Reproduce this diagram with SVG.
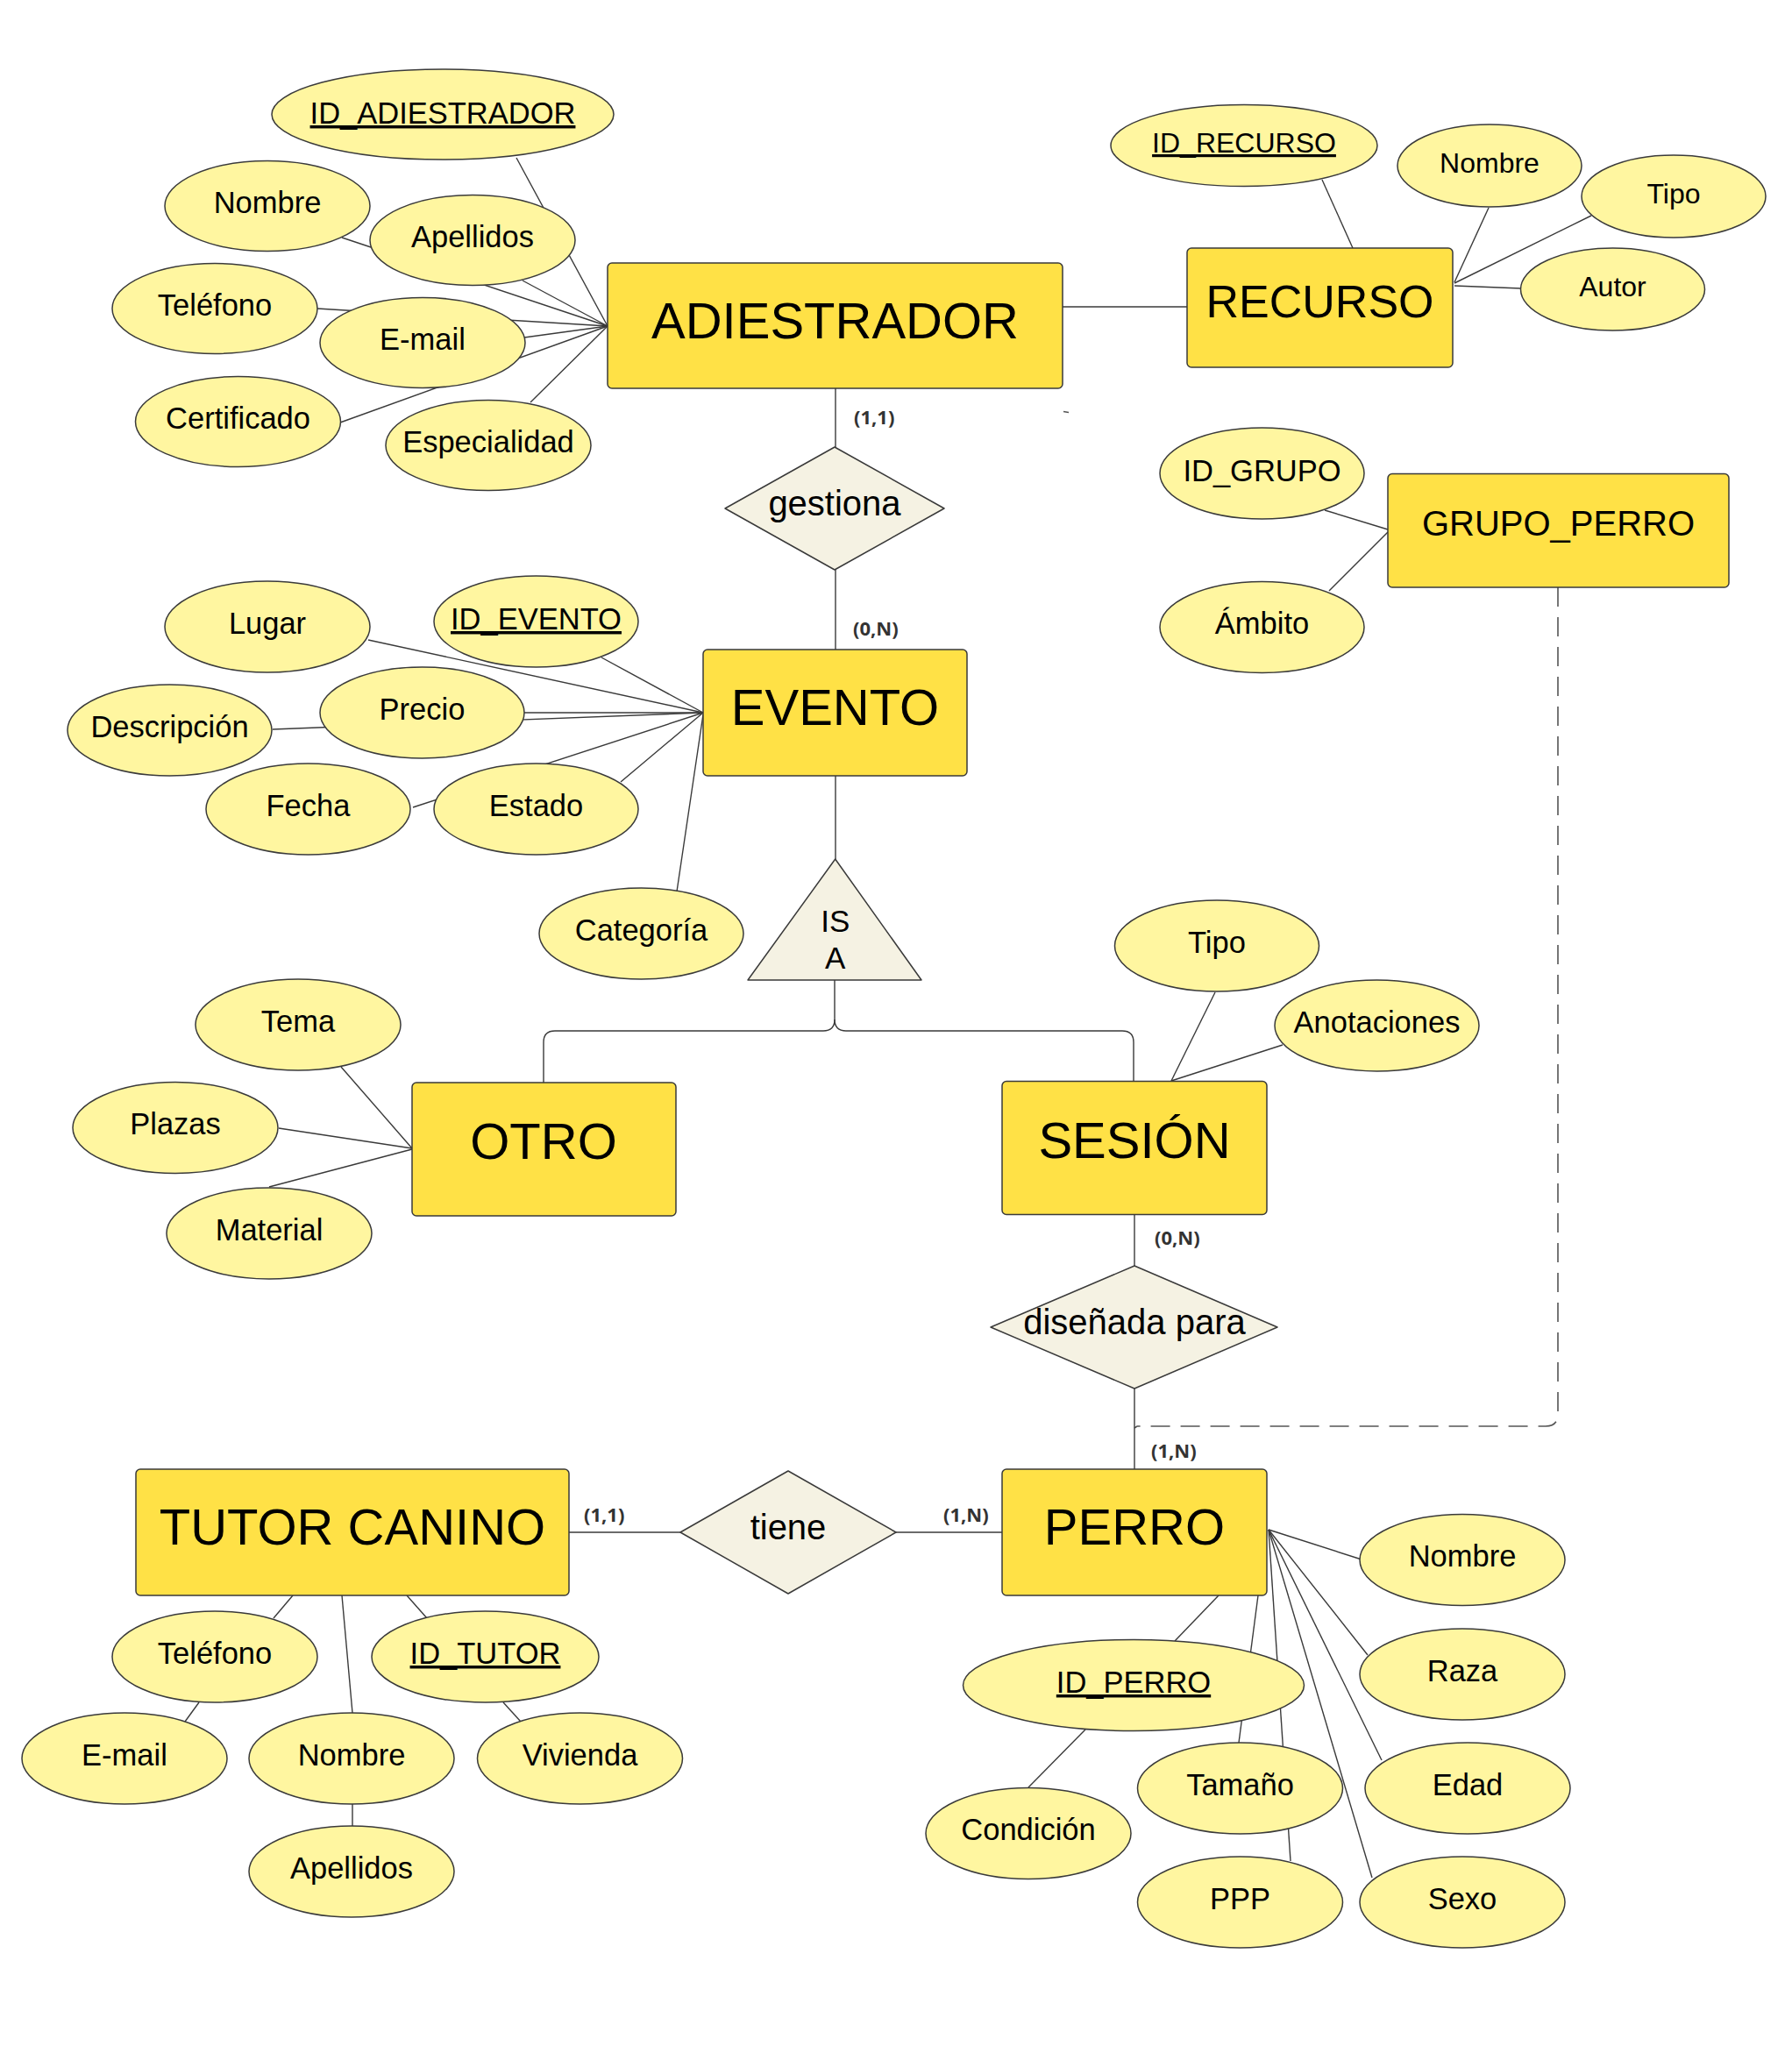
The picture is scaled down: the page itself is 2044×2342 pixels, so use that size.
<svg xmlns="http://www.w3.org/2000/svg" width="2044" height="2342" viewBox="0 0 2044 2342">
<style>
.ent{fill:#FFE146;stroke:#3a3a3a;stroke-width:1.5}
.att{fill:#FFF6A0;stroke:#3a3a3a;stroke-width:1.5}
.rel{fill:#F5F2E3;stroke:#3a3a3a;stroke-width:1.5;stroke-linejoin:round}
.ln{stroke:#3a3a3a;stroke-width:1.4;fill:none}
.dash{stroke:#555;stroke-width:1.6;fill:none;stroke-dasharray:22 12}
text{font-family:"Liberation Sans",Arial,sans-serif;fill:#000;text-anchor:middle}
.t{font-size:34.5px}
.ts{font-size:32px}
.te{font-size:58px}
.tr{font-size:40px}
.u{text-decoration:underline}
.card{font-family:"Open Sans","DejaVu Sans",sans-serif;font-weight:700;font-size:22px;fill:#333;text-anchor:start}
</style>
<rect width="2044" height="2342" fill="#fff"/>
<g id="connectors">
<line class="ln" x1="589" y1="180" x2="693" y2="372"/>
<line class="ln" x1="390" y1="271" x2="693" y2="372"/>
<line class="ln" x1="596" y1="320" x2="693" y2="372"/>
<line class="ln" x1="362" y1="352" x2="693" y2="372"/>
<line class="ln" x1="598" y1="385" x2="693" y2="372"/>
<line class="ln" x1="388" y1="482" x2="693" y2="372"/>
<line class="ln" x1="605" y1="459" x2="693" y2="372"/>
<line class="ln" x1="1212" y1="350" x2="1354" y2="350"/>
<line class="ln" x1="953" y1="443" x2="953" y2="510"/>
<line class="ln" x1="953" y1="650" x2="953" y2="741"/>
<line class="ln" x1="1508" y1="205" x2="1543" y2="283"/>
<line class="ln" x1="1698" y1="237" x2="1659" y2="322"/>
<line class="ln" x1="1815" y1="246" x2="1659" y2="323"/>
<line class="ln" x1="1735" y1="329" x2="1659" y2="326"/>
<line class="ln" x1="1511" y1="582" x2="1583" y2="604"/>
<line class="ln" x1="1516" y1="674" x2="1583" y2="607"/>
<path class="dash" d="M1777,670 V1613 Q1777,1627 1763,1627 H1297 L1294,1629"/>
<line class="ln" x1="420" y1="730" x2="802" y2="813"/>
<line class="ln" x1="686" y1="750" x2="802" y2="813"/>
<line class="ln" x1="598" y1="813" x2="802" y2="813"/>
<line class="ln" x1="311" y1="832" x2="802" y2="813"/>
<line class="ln" x1="471" y1="921" x2="802" y2="813"/>
<line class="ln" x1="708" y1="892" x2="802" y2="813"/>
<line class="ln" x1="772" y1="1017" x2="802" y2="815"/>
<line class="ln" x1="953" y1="885" x2="953" y2="980"/>
<path class="ln" d="M952,1118 V1163 Q952,1176 939,1176 H633 Q620,1176 620,1189 V1235"/>
<path class="ln" d="M952,1163 Q952,1176 965,1176 H1280 Q1293,1176 1293,1189 V1234"/>
<line class="ln" x1="389" y1="1217" x2="470" y2="1310"/>
<line class="ln" x1="318" y1="1287" x2="470" y2="1310"/>
<line class="ln" x1="307" y1="1354" x2="470" y2="1311"/>
<line class="ln" x1="1386" y1="1132" x2="1336" y2="1233"/>
<line class="ln" x1="1463" y1="1192" x2="1336" y2="1233"/>
<line class="ln" x1="1294" y1="1386" x2="1294" y2="1444"/>
<line class="ln" x1="1294" y1="1584" x2="1294" y2="1676"/>
<line class="ln" x1="334" y1="1820" x2="312" y2="1846"/>
<line class="ln" x1="390" y1="1820" x2="402" y2="1954"/>
<line class="ln" x1="464" y1="1820" x2="487" y2="1846"/>
<line class="ln" x1="227" y1="1942" x2="211" y2="1964"/>
<line class="ln" x1="574" y1="1942" x2="594" y2="1964"/>
<line class="ln" x1="402" y1="2058" x2="402" y2="2083"/>
<line class="ln" x1="649" y1="1748" x2="776" y2="1748"/>
<line class="ln" x1="1022" y1="1748" x2="1143" y2="1748"/>
<line class="ln" x1="1447" y1="1745" x2="1553" y2="1779"/>
<line class="ln" x1="1447" y1="1745" x2="1560" y2="1888"/>
<line class="ln" x1="1447" y1="1745" x2="1576" y2="2008"/>
<line class="ln" x1="1447" y1="1745" x2="1565" y2="2142"/>
<line class="ln" x1="1447" y1="1745" x2="1472" y2="2123"/>
<line class="ln" x1="1435" y1="1820" x2="1413" y2="1988"/>
<line class="ln" x1="1390" y1="1820" x2="1340" y2="1872"/>
<line class="ln" x1="1238" y1="1973" x2="1173" y2="2039"/>
<line x1="1213" y1="469.5" x2="1219" y2="470.5" stroke="#555" stroke-width="1.5"/>
</g>
<g id="adiestrador"><rect class="ent" x="693" y="300" width="519" height="143" rx="5"/><text class="te" x="952.5" y="386">ADIESTRADOR</text></g>
<g id="a_id_adiestrador"><ellipse class="att" cx="505" cy="130.5" rx="195" ry="51.5"/><text class="t u" x="505" y="141">ID_ADIESTRADOR</text></g>
<g id="a_nombre_adi"><ellipse class="att" cx="305" cy="235" rx="117" ry="51.5"/><text class="t" x="305" y="243">Nombre</text></g>
<g id="a_apellidos_adi"><ellipse class="att" cx="539" cy="274" rx="117" ry="51.5"/><text class="t" x="539" y="282">Apellidos</text></g>
<g id="a_telefono_adi"><ellipse class="att" cx="245" cy="352" rx="117" ry="51.5"/><text class="t" x="245" y="360">Teléfono</text></g>
<g id="a_email_adi"><ellipse class="att" cx="482" cy="391" rx="117" ry="51.5"/><text class="t" x="482" y="399">E-mail</text></g>
<g id="a_certificado"><ellipse class="att" cx="271.5" cy="481" rx="117" ry="51.5"/><text class="t" x="271.5" y="489">Certificado</text></g>
<g id="a_especialidad"><ellipse class="att" cx="557" cy="508" rx="117" ry="51.5"/><text class="t" x="557" y="516">Especialidad</text></g>
<g id="recurso"><rect class="ent" x="1354" y="283" width="303" height="136" rx="5"/><text x="1505.5" y="362" style="font-size:52px">RECURSO</text></g>
<g id="a_id_recurso"><ellipse class="att" cx="1419" cy="166" rx="152" ry="46.5"/><text class="ts u" x="1419" y="174">ID_RECURSO</text></g>
<g id="a_nombre_rec"><ellipse class="att" cx="1699" cy="189" rx="105" ry="47"/><text class="ts" x="1699" y="197">Nombre</text></g>
<g id="a_tipo_rec"><ellipse class="att" cx="1909" cy="224" rx="105" ry="47"/><text class="ts" x="1909" y="232">Tipo</text></g>
<g id="a_autor"><ellipse class="att" cx="1839.5" cy="330" rx="105" ry="47"/><text class="ts" x="1839.5" y="338">Autor</text></g>
<g id="gestiona"><polygon class="rel" points="952,510 1077,580 952,650 827,580"/><text class="tr" x="952" y="588">gestiona</text></g>
<g id="grupo_perro"><rect class="ent" x="1583" y="540.5" width="389" height="129.5" rx="5"/><text x="1777.5" y="611" style="font-size:40px">GRUPO_PERRO</text></g>
<g id="a_id_grupo"><ellipse class="att" cx="1439.5" cy="540" rx="116.5" ry="52"/><text class="t" x="1439.5" y="549">ID_GRUPO</text></g>
<g id="a_ambito"><ellipse class="att" cx="1439.5" cy="715.5" rx="116.5" ry="52"/><text class="t" x="1439.5" y="723">Ámbito</text></g>
<g id="evento"><rect class="ent" x="802" y="741" width="301" height="144" rx="5"/><text class="te" x="952.5" y="827">EVENTO</text></g>
<g id="a_lugar"><ellipse class="att" cx="305" cy="715" rx="117" ry="52"/><text class="t" x="305" y="723">Lugar</text></g>
<g id="a_id_evento"><ellipse class="att" cx="611.5" cy="709" rx="116.5" ry="52"/><text class="t u" x="611.5" y="718">ID_EVENTO</text></g>
<g id="a_precio"><ellipse class="att" cx="481.5" cy="813" rx="116.5" ry="52"/><text class="t" x="481.5" y="821">Precio</text></g>
<g id="a_descripcion"><ellipse class="att" cx="193.5" cy="833" rx="116.5" ry="52"/><text class="t" x="193.5" y="841">Descripción</text></g>
<g id="a_fecha"><ellipse class="att" cx="351.5" cy="923" rx="116.5" ry="52"/><text class="t" x="351.5" y="931">Fecha</text></g>
<g id="a_estado"><ellipse class="att" cx="611.5" cy="923" rx="116.5" ry="52"/><text class="t" x="611.5" y="931">Estado</text></g>
<g id="a_categoria"><ellipse class="att" cx="731.5" cy="1065" rx="116.5" ry="52"/><text class="t" x="731.5" y="1073">Categoría</text></g>
<g id="isa"><polygon class="rel" points="952.7,980 1051,1118 853,1118"/><text x="952.7" y="1063" style="font-size:35px">IS</text><text x="952.7" y="1105" style="font-size:35px">A</text></g>
<g id="otro"><rect class="ent" x="470" y="1235" width="301" height="152" rx="5"/><text class="te" x="620" y="1322">OTRO</text></g>
<g id="a_tema"><ellipse class="att" cx="340" cy="1169" rx="117" ry="52"/><text class="t" x="340" y="1177">Tema</text></g>
<g id="a_plazas"><ellipse class="att" cx="200" cy="1286.5" rx="117" ry="52"/><text class="t" x="200" y="1294">Plazas</text></g>
<g id="a_material"><ellipse class="att" cx="307" cy="1407" rx="117" ry="52"/><text class="t" x="307" y="1415">Material</text></g>
<g id="sesion"><rect class="ent" x="1143" y="1233.5" width="302" height="152" rx="5"/><text class="te" x="1294" y="1321">SESIÓN</text></g>
<g id="a_tipo_ses"><ellipse class="att" cx="1388" cy="1079" rx="116.5" ry="52"/><text class="t" x="1388" y="1087">Tipo</text></g>
<g id="a_anotaciones"><ellipse class="att" cx="1570.5" cy="1170" rx="116.5" ry="52"/><text class="t" x="1570.5" y="1178">Anotaciones</text></g>
<g id="disenada"><polygon class="rel" points="1294,1444 1457,1514 1294,1584 1130,1514"/><text class="tr" x="1294" y="1522">diseñada para</text></g>
<g id="tutor"><rect class="ent" x="155" y="1676" width="494" height="144" rx="5"/><text class="te" x="402" y="1762">TUTOR CANINO</text></g>
<g id="a_telefono_tut"><ellipse class="att" cx="245" cy="1890" rx="117" ry="52"/><text class="t" x="245" y="1898">Teléfono</text></g>
<g id="a_id_tutor"><ellipse class="att" cx="553.5" cy="1890" rx="129.5" ry="52"/><text class="t u" x="553.5" y="1898">ID_TUTOR</text></g>
<g id="a_email_tut"><ellipse class="att" cx="142" cy="2006" rx="117" ry="52"/><text class="t" x="142" y="2014">E-mail</text></g>
<g id="a_nombre_tut"><ellipse class="att" cx="401" cy="2006" rx="117" ry="52"/><text class="t" x="401" y="2014">Nombre</text></g>
<g id="a_vivienda"><ellipse class="att" cx="661.5" cy="2006" rx="117" ry="52"/><text class="t" x="661.5" y="2014">Vivienda</text></g>
<g id="a_apellidos_tut"><ellipse class="att" cx="401" cy="2135" rx="117" ry="52"/><text class="t" x="401" y="2143">Apellidos</text></g>
<g id="tiene"><polygon class="rel" points="899,1678 1022,1748 899,1818 776,1748"/><text class="tr" x="899" y="1756">tiene</text></g>
<g id="perro"><rect class="ent" x="1143" y="1676" width="302" height="144" rx="5"/><text class="te" x="1294" y="1762">PERRO</text></g>
<g id="a_nombre_per"><ellipse class="att" cx="1668" cy="1779.5" rx="117" ry="52"/><text class="t" x="1668" y="1787">Nombre</text></g>
<g id="a_raza"><ellipse class="att" cx="1668" cy="1910" rx="117" ry="52"/><text class="t" x="1668" y="1918">Raza</text></g>
<g id="a_edad"><ellipse class="att" cx="1674" cy="2040" rx="117" ry="52"/><text class="t" x="1674" y="2048">Edad</text></g>
<g id="a_sexo"><ellipse class="att" cx="1668" cy="2170" rx="117" ry="52"/><text class="t" x="1668" y="2178">Sexo</text></g>
<g id="a_id_perro"><ellipse class="att" cx="1293" cy="1922.5" rx="194.5" ry="52"/><text class="t u" x="1293" y="1931">ID_PERRO</text></g>
<g id="a_tamano"><ellipse class="att" cx="1414.5" cy="2040" rx="117" ry="52"/><text class="t" x="1414.5" y="2048">Tamaño</text></g>
<g id="a_ppp"><ellipse class="att" cx="1414.5" cy="2170" rx="117" ry="52"/><text class="t" x="1414.5" y="2178">PPP</text></g>
<g id="a_condicion"><ellipse class="att" cx="1173" cy="2091.5" rx="117" ry="52"/><text class="t" x="1173" y="2099">Condición</text></g>
<g id="cardinalities">
<text class="card" x="974" y="484">(1,1)</text>
<text class="card" x="973" y="725">(0,N)</text>
<text class="card" x="1317" y="1420">(0,N)</text>
<text class="card" x="1313" y="1663">(1,N)</text>
<text class="card" x="666" y="1736">(1,1)</text>
<text class="card" x="1076" y="1736">(1,N)</text>
</g>
</svg>
